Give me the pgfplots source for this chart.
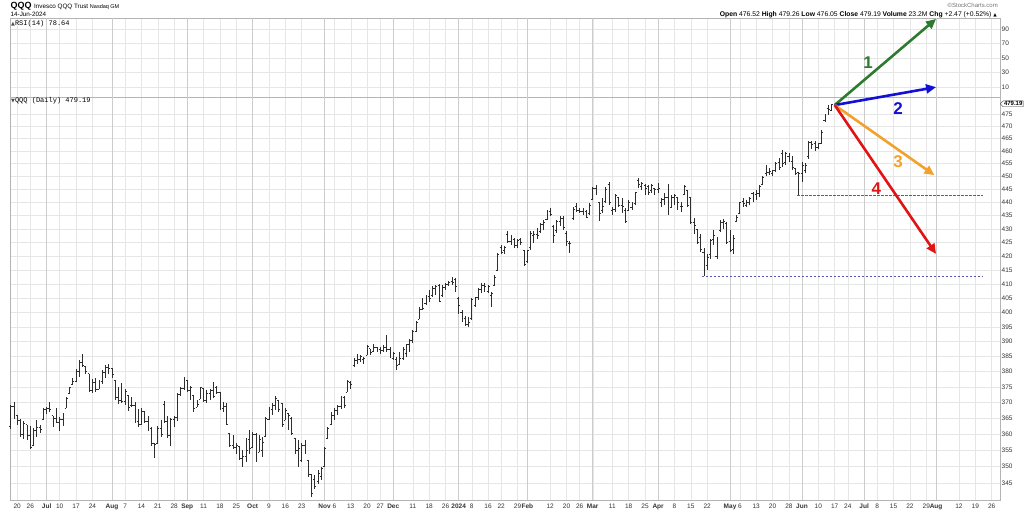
\documentclass[border=0pt]{standalone}
\usepackage{fontspec}
\setmainfont{Liberation Sans}
\newfontfamily\mono{Liberation Mono}
\newfontfamily\dejavu{DejaVu Sans}
\usepackage{pgfplots}
\usepackage{pgfplotstable}
\pgfplotsset{compat=1.18}
\usetikzlibrary{arrows.meta,shapes.symbols}
\definecolor{gridc}{HTML}{E6E6E6}
\definecolor{gridm}{HTML}{CCCCCC}
\definecolor{framec}{HTML}{B4B4B4}
\definecolor{barc}{HTML}{2E2E2E}
\definecolor{agreen}{HTML}{2E7A2E}
\definecolor{ablue}{HTML}{1010D8}
\definecolor{aorange}{HTML}{F2A22C}
\definecolor{ared}{HTML}{E01414}
\definecolor{dashc}{HTML}{5A5AA8}
\pgfdeclareplotmark{ctick}{\pgfpathmoveto{\pgfpointorigin}\pgfpathlineto{\pgfpoint{1.5pt}{0pt}}\pgfusepathqstroke}
\pgfdeclareplotmark{otick}{\pgfpathmoveto{\pgfpoint{-1.5pt}{0pt}}\pgfpathlineto{\pgfpointorigin}\pgfusepathqstroke}

\pgfplotstableread{
i O H L C
-2 362.5 369.2 361.5 368.8
-1 368.8 370.3 364.7 366.0
0 366.0 366.1 363.0 364.2
1 364.2 364.7 359.2 359.8
2 359.8 364.0 358.5 363.5
3 362.9 362.9 358.2 359.5
4 359.5 362.6 355.3 355.8
5 356.4 361.9 356.4 361.2
6 361.2 364.5 359.2 362.0
7 362.0 362.9 360.5 361.5
8 364.5 368.2 364.5 367.8
9 367.8 368.7 366.4 368.2
10 368.2 370.0 367.1 367.8
11 365.8 365.8 362.2 364.8
12 364.8 368.2 363.4 363.8
13 363.8 365.3 361.1 364.5
14 364.5 366.6 362.6 366.0
15 368.2 371.7 368.2 371.2
16 373.0 375.1 373.0 374.8
17 375.7 377.8 375.7 377.0
18 377.0 380.8 376.7 380.2
19 380.2 383.9 378.3 383.2
20 383.2 385.9 381.6 382.0
21 381.8 381.8 379.4 380.0
22 379.4 379.4 373.5 374.0
23 374.0 377.5 373.0 376.5
24 376.5 378.1 373.5 374.2
25 374.3 377.3 374.3 376.8
26 376.8 380.5 376.0 379.8
27 379.8 382.2 378.1 381.5
28 381.5 382.5 379.4 381.0
29 381.0 381.4 378.1 379.0
30 377.3 377.3 370.9 371.5
31 371.5 375.1 369.6 370.5
32 370.5 376.2 369.8 370.2
33 370.2 374.3 369.2 373.5
34 372.4 372.4 367.4 368.5
35 369.0 371.9 368.7 369.2
36 369.2 370.3 363.4 364.0
37 364.0 367.8 362.2 363.0
38 363.0 368.2 362.9 367.2
39 367.2 367.4 363.4 364.0
40 364.0 365.6 361.1 361.8
41 361.8 362.2 356.2 357.0
42 357.0 357.4 352.6 356.8
43 357.2 362.4 357.2 361.8
44 361.8 364.5 359.0 360.0
45 369.5 370.5 363.4 364.0
46 364.0 365.6 358.7 359.5
47 359.5 365.0 356.4 364.5
48 364.5 365.8 362.2 365.2
49 365.2 373.0 364.0 372.5
50 372.5 375.1 372.2 374.5
51 374.5 378.3 374.0 377.5
52 377.3 377.3 373.5 374.0
53 374.0 375.4 370.7 374.8
54 372.4 372.4 367.1 368.0
55 368.5 370.9 368.5 369.5
56 371.1 375.1 371.1 374.8
57 374.5 374.5 370.0 370.5
58 370.5 374.0 369.8 373.0
59 373.0 374.5 370.9 374.0
60 374.0 376.7 371.4 372.0
61 375.0 375.5 372.9 373.2
62 373.2 373.4 367.6 368.2
63 368.2 370.2 367.1 368.8
64 368.8 369.7 362.8 363.2
65 360.2 360.2 356.0 356.5
66 356.5 359.7 355.5 356.0
67 356.0 357.1 354.0 356.5
68 356.1 356.1 352.0 352.5
69 352.5 355.0 350.0 353.0
70 353.0 358.7 351.5 355.0
71 358.5 361.3 354.0 355.5
72 356.0 360.8 356.0 359.8
73 359.8 360.2 351.5 352.5
74 354.5 359.7 354.5 358.5
75 355.0 359.2 353.0 357.5
76 359.2 365.4 359.2 364.8
77 364.5 368.6 364.4 367.8
78 367.8 369.7 366.0 369.0
79 369.0 372.0 367.6 371.2
80 370.5 370.8 367.1 367.8
81 369.7 369.7 362.3 363.0
82 364.4 368.4 364.4 367.5
83 366.5 366.5 361.3 365.8
84 365.0 365.4 359.7 360.2
85 358.7 358.7 354.0 355.0
86 355.0 358.2 350.0 355.5
87 352.0 357.1 351.5 356.5
88 356.5 358.2 354.0 357.5
89 352.0 352.0 346.9 347.5
90 347.5 347.9 340.9 342.0
91 346.0 347.4 343.4 344.0
92 345.5 348.9 344.9 348.0
93 347.0 350.0 345.9 349.5
94 350.0 356.1 350.0 355.5
95 358.7 362.3 358.7 361.8
96 363.0 366.9 362.8 366.0
97 366.0 368.1 364.4 367.5
98 367.5 369.2 366.0 368.8
99 368.8 372.0 367.8 371.5
100 371.5 372.0 368.1 369.0
101 373.4 377.2 373.4 376.8
102 376.6 377.0 374.5 375.8
103 382.0 384.4 381.6 383.8
104 383.8 386.0 382.7 384.0
105 384.0 385.5 383.3 385.0
106 384.0 384.9 382.7 384.5
107 385.5 388.8 385.5 388.5
108 387.7 387.7 385.5 386.5
109 386.6 389.3 386.6 388.0
110 388.0 388.4 386.6 387.5
111 387.5 388.2 386.0 387.2
112 387.2 388.8 386.6 388.2
113 388.2 392.2 386.6 387.5
114 387.5 388.2 384.4 386.0
115 384.5 386.6 383.8 386.2
116 384.0 384.9 380.7 382.0
117 382.5 386.6 382.1 384.5
118 384.5 388.2 383.8 387.5
119 386.0 389.3 384.9 389.0
120 389.0 391.0 386.6 390.5
121 390.5 393.9 389.5 393.5
122 393.5 397.3 393.4 396.5
123 397.8 401.9 397.8 401.0
124 401.0 404.9 400.7 401.5
125 403.0 406.1 402.5 405.5
126 405.5 407.9 403.7 405.0
127 406.0 409.1 405.5 408.5
128 408.5 409.7 406.1 409.0
129 409.5 410.0 403.5 404.0
130 406.0 409.7 405.5 408.8
131 408.8 410.3 407.9 409.8
132 409.8 410.9 409.1 410.5
133 411.0 412.5 409.7 410.5
134 411.5 412.1 407.3 409.0
135 405.0 405.5 399.6 402.5
136 400.0 400.7 396.6 398.0
137 398.0 399.0 395.4 396.0
138 396.0 398.4 394.9 396.5
139 398.0 405.0 397.5 404.5
140 402.5 405.5 402.0 405.2
141 405.2 408.5 404.3 408.0
142 408.0 410.3 406.7 409.5
143 409.5 410.3 407.3 409.0
144 407.5 409.7 406.7 409.2
145 406.0 407.3 401.9 406.5
146 409.5 413.0 409.1 412.5
147 415.0 421.2 414.5 420.8
148 423.0 424.2 420.6 421.5
149 422.0 423.6 420.6 423.0
150 428.0 429.1 424.8 425.5
151 425.5 427.9 424.2 426.5
152 426.0 426.7 423.0 424.0
153 424.0 426.1 423.0 425.8
154 426.0 426.7 424.2 425.0
155 422.0 422.4 416.4 417.0
156 418.0 422.4 417.6 422.0
157 423.0 429.1 422.4 428.5
158 427.5 429.1 424.8 428.0
159 428.0 430.3 426.1 427.5
160 429.0 432.2 428.5 431.8
161 431.8 433.4 429.7 432.5
162 433.5 437.2 433.4 436.5
163 436.5 437.8 434.7 435.5
164 431.0 431.6 424.8 427.5
165 429.5 433.4 428.5 433.0
166 433.0 434.7 431.0 434.0
167 434.0 434.7 429.7 430.5
168 428.5 429.1 423.6 425.5
169 424.5 425.5 421.2 424.5
170 434.0 438.4 433.4 437.5
171 438.5 439.7 436.5 437.0
172 437.0 437.8 435.9 436.5
173 436.5 437.8 435.3 437.0
174 436.5 437.2 434.0 434.5
175 436.0 439.7 435.3 439.0
176 441.0 446.0 440.9 445.5
177 445.5 446.5 443.0 444.0
178 440.0 440.3 432.8 436.0
179 437.0 441.6 435.9 438.5
180 440.5 446.0 439.7 445.0
181 447.0 447.9 439.0 440.0
182 437.0 438.4 435.3 437.5
183 437.5 443.4 436.5 442.5
184 442.0 442.2 438.4 439.0
185 439.0 441.6 435.9 438.5
186 437.0 437.8 432.2 433.0
187 437.0 440.9 437.0 440.0
188 438.0 440.3 437.1 439.5
189 439.5 444.1 439.0 443.8
190 448.5 449.3 445.4 447.0
191 446.0 448.0 444.8 447.5
192 446.5 447.0 442.8 445.5
193 446.0 446.7 442.8 444.0
194 444.5 447.0 443.5 446.5
195 445.5 445.7 442.8 445.0
196 445.0 447.4 443.5 445.5
197 440.0 441.5 438.4 441.0
198 441.0 443.5 439.0 442.0
199 442.0 447.0 435.2 436.5
200 438.0 442.8 437.7 442.0
201 442.0 443.1 439.0 442.5
202 442.0 442.2 437.1 440.0
203 438.5 440.3 436.5 438.5
204 443.0 446.7 442.8 446.0
205 444.5 444.8 438.4 439.0
206 442.0 442.2 432.0 432.5
207 432.5 434.0 428.0 431.5
208 430.0 430.0 424.5 425.0
209 427.0 428.0 421.5 422.5
210 421.5 423.0 412.8 414.5
211 416.5 420.8 414.8 419.5
212 420.5 426.4 419.1 425.8
213 426.0 429.5 423.9 427.5
214 420.0 427.0 419.1 425.5
215 429.5 433.3 428.9 432.5
216 432.5 433.9 430.1 433.0
217 432.0 432.6 424.5 425.0
218 425.5 429.5 421.5 422.0
219 422.5 427.6 420.9 426.5
220 433.0 435.2 432.6 434.5
221 436.0 440.3 435.8 440.0
222 440.5 441.5 438.4 439.5
223 439.0 440.9 438.4 440.0
224 440.0 442.2 439.0 441.5
225 443.5 444.1 440.3 442.0
226 443.0 444.8 440.9 443.5
227 443.5 446.7 442.2 446.0
228 447.0 450.0 446.7 449.5
229 451.0 454.5 450.0 451.5
230 451.5 453.2 450.6 452.0
231 451.0 452.6 450.0 452.2
232 452.5 455.8 451.9 455.0
233 455.5 457.1 452.6 453.5
234 459.0 460.5 453.9 455.0
235 455.5 459.8 454.5 459.2
236 458.0 459.2 455.8 458.5
237 456.0 457.9 452.6 453.5
238 453.0 453.2 450.6 451.0
239 451.5 451.9 442.8 451.0
240 451.0 455.8 448.0 454.5
241 452.5 455.1 451.3 454.5
242 458.0 464.0 457.0 463.5
243 463.5 464.1 460.7 462.5
244 463.0 464.0 460.0 461.5
245 461.5 463.4 461.0 463.0
246 463.0 468.4 462.8 467.5
247 472.5 475.2 471.9 474.5
248 477.5 478.6 474.6 477.0
249 476.52 479.26 476.05 479.19
}\ohlc

\pgfplotsset{
  qqqbase/.style={
    scale only axis, width=990pt,
    xmin=-2.2, xmax=300.55,
    axis line style={draw=framec, line width=0.5pt},
    tick style={draw=none},
    major tick length=0pt,
    grid=major,
    major grid style={draw=gridc, line width=0.45pt},
    xtick={0,4,9,13,18,23,29,33,38,43,48,52,57,62,67,72,77,82,87,94,97,102,107,111,115,121,126,131,135,139,144,148,153,156,163,168,172,176,182,187,192,196,201,206,211,218,221,226,231,236,240,245,250,254,259,263,268,273,278,281,288,293,298},
    extra x ticks={9,29,52,72,94,115,135,156,176,196,218,240,259,281},
    extra x tick labels={},
    extra x tick style={grid=major, major grid style={draw=gridm, line width=0.55pt}},
    yticklabel pos=right,
    ticklabel style={font=\fontsize{6.5}{7}\selectfont, text=black!80},
    yticklabel style={anchor=west, inner sep=1.5pt},
    /pgf/number format/assume math mode=true,
  }
}

\begin{document}
\begin{tikzpicture}
\useasboundingbox (0,0) rectangle (1024pt,512pt);

% RSI panel (empty)
\begin{axis}[qqqbase,
  at={(10pt,415pt)}, anchor=south west, height=79pt,
  ymin=-3.8, ymax=105.2,
  ytick={10,30,50,70,90},
  xticklabels={},
  xticklabel style={text opacity=0},
  extra x tick style={grid=major, major grid style={draw=gridm, line width=0.55pt}, xticklabel style={text opacity=0}},
]
\addplot[draw=none] coordinates {(0,50)};
\node[signal, signal to=west, draw=black!80, fill=white, inner sep=0.8pt,
      font=\fontsize{6}{6}\selectfont, anchor=west] at (axis cs:300.55,78.64) {78.64};
\end{axis}

% Price panel
\begin{axis}[qqqbase,
  at={(10pt,12pt)}, anchor=south west, height=403pt,
  ymin=5.828946, ymax=6.178046,
  ytick={5.843544,5.857933,5.872118,5.886104,5.899897,5.913503,5.926926,5.940171,5.953243,5.966147,5.978886,5.991465,6.003887,6.016157,6.028279,6.040255,6.052089,6.063785,6.075346,6.086775,6.098074,6.109248,6.120297,6.131226,6.142037,6.152733,6.163315},
  yticklabels={345,350,355,360,365,370,375,380,385,390,395,400,405,410,415,420,425,430,435,440,445,450,455,460,465,470,475},
  xticklabels={20,26,\textbf{Jul},10,17,24,\textbf{Aug},7,14,21,28,\textbf{Sep},11,18,25,\textbf{Oct},9,16,23,\textbf{Nov},6,13,20,27,\textbf{Dec},11,18,26,\textbf{2024},8,16,22,29,\textbf{Feb},12,20,26,\textbf{Mar},11,18,25,\textbf{Apr},8,15,22,\textbf{May},6,13,20,28,\textbf{Jun},10,17,24,\textbf{Jul},8,15,22,29,\textbf{Aug},12,19,26},
  clip=false,
]
% dashed support lines
\addplot[dashc, line width=0.7pt, dash pattern=on 2.5pt off 1.5pt]
  table[x=i, y expr=ln(\thisrow{p}), row sep=\\] {i p\\ 209.4 412.8\\ 295.4 412.8\\};
\addplot[dashc, line width=0.7pt, dash pattern=on 2.5pt off 1.5pt]
  table[x=i, y expr=ln(\thisrow{p}), row sep=\\] {i p\\ 238.5 442.8\\ 295.4 442.8\\};
% OHLC bars: high-low line with close tick
\addplot[only marks, mark=ctick, color=barc, mark options={line width=0.8pt},
  error bars/.cd, y dir=both, y explicit, error mark=none,
  error bar style={line width=0.8pt, color=barc}]
  table[x=i, y expr=ln(\thisrow{C}),
        y error plus expr={ln(\thisrow{H})-ln(\thisrow{C})},
        y error minus expr={ln(\thisrow{C})-ln(\thisrow{L})}] {\ohlc};
% open ticks
\addplot[only marks, mark=otick, color=barc, mark options={line width=0.8pt}]
  table[x=i, y expr=ln(\thisrow{O})] {\ohlc};
% scenario arrows
\addplot[agreen, line width=2.6pt, -{Triangle[length=10pt,width=9pt]}]
  table[x=i, y expr=ln(\thisrow{p}), row sep=\\] {i p\\ 250 478.7\\ 281 515.8\\};
\addplot[ablue, line width=2.6pt, -{Triangle[length=10pt,width=9pt]}]
  table[x=i, y expr=ln(\thisrow{p}), row sep=\\] {i p\\ 250 478.7\\ 281 486.2\\};
\addplot[aorange, line width=2.6pt, -{Triangle[length=10pt,width=9pt]}]
  table[x=i, y expr=ln(\thisrow{p}), row sep=\\] {i p\\ 250 478.7\\ 280.5 450.5\\};
\addplot[ared, line width=2.6pt, -{Triangle[length=10pt,width=9pt]}]
  table[x=i, y expr=ln(\thisrow{p}), row sep=\\] {i p\\ 250 478.7\\ 281 420.8\\};
\node[font=\fontsize{17}{17}\selectfont\bfseries, text=agreen] at (axis cs:260.2,6.207583) {1};
\node[font=\fontsize{17}{17}\selectfont\bfseries, text=ablue] at (axis cs:269.4,6.168) {2};
\node[font=\fontsize{17}{17}\selectfont\bfseries, text=aorange] at (axis cs:269.4,6.121615) {3};
\node[font=\fontsize{17}{17}\selectfont\bfseries, text=ared] at (axis cs:262.7,6.098299) {4};
\node[signal, signal to=west, draw=black!80, fill=white, inner sep=0.8pt,
      font=\fontsize{6}{6}\selectfont\bfseries, anchor=west] at (axis cs:300.55,6.172097) {479.19};
\end{axis}

% header texts
\node[anchor=base west, inner sep=0] at (10.5pt,503pt)
  {\fontsize{9}{10}\selectfont\bfseries QQQ\ \mdseries\fontsize{6.3}{7}\selectfont Invesco QQQ Trust {\fontsize{5.5}{6}\selectfont Nasdaq GM}};
\node[anchor=base west, inner sep=0, font=\fontsize{6.3}{7}\selectfont] at (10.5pt,495pt) {14-Jun-2024};
\node[anchor=base west, inner sep=0, font=\mono\fontsize{7}{8}\selectfont] at (11pt,486pt)
  {{\dejavu\fontsize{5}{6}\selectfont\color{black!70}▲}RSI(14) 78.64};
\node[anchor=base west, inner sep=0, font=\mono\fontsize{7}{8}\selectfont] at (11pt,409pt)
  {{\dejavu\fontsize{5}{6}\selectfont\color{black!70}▼}QQQ (Daily) 479.19};
\node[anchor=base east, inner sep=0, font=\fontsize{6.8}{8}\selectfont] at (997pt,495.5pt)
  {\textbf{Open} 476.52 \textbf{High} 479.26 \textbf{Low} 476.05 \textbf{Close} 479.19 \textbf{Volume} 23.2M \textbf{Chg} +2.47 (+0.52\%) {\dejavu\fontsize{4.5}{5}\selectfont ▲}};
\node[anchor=base east, inner sep=0, font=\fontsize{6}{7}\selectfont, text=black!55] at (998pt,504pt) {©StockCharts.com};
\end{tikzpicture}
\end{document}
